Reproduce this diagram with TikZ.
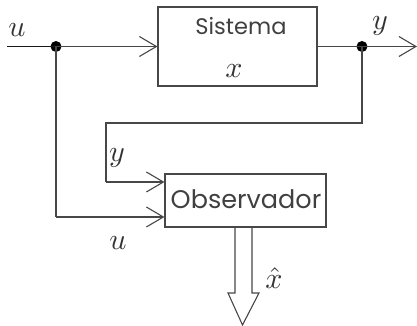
\documentclass[tikz,border=0pt]{standalone}
\usepackage{fontspec}
\usepackage{graphicx}
\newfontfamily\boxfont{Poppins}
\newcommand\mlab[1]{\scalebox{3}{$#1$}}
\usetikzlibrary{arrows.meta}
\tikzset{
  line/.style={draw=black!72, line width=1.1pt},
  blk/.style={draw=black!72, line width=1.1pt, inner sep=0pt, text=black!75},
  barb/.style={-{Straight Barb[length=17pt,width=20pt,line width=1.1pt]}},
  junction/.style={circle, fill=black, inner sep=0pt, minimum size=11pt},
  mlabel/.style={text=black!80, inner sep=0pt}
}
\begin{document}
\begin{tikzpicture}[x=1pt,y=-1pt]
\useasboundingbox (0,0) rectangle (417,326);
\node[blk, minimum width=159pt, minimum height=79pt] (sys) at (237.5,46.5) {};
\node[text=black!75, font=\boxfont\fontsize{22.5}{24}\selectfont, inner sep=0pt] (systxt) at (241,26) {Sistema};
\node[mlabel] (sysx) at (234,71) {\mlab{x}};
\node[blk, minimum width=161pt, minimum height=53pt] (obs) at (245.5,200.5) {};
\node[text=black!75, font=\boxfont\fontsize{25.5}{27}\selectfont, inner sep=0pt] (obstxt) at (246,199) {Observador};

\coordinate (uin) at (7,46.5);
\node[junction] (du) at (56,46.5) {};
\node[junction] (dy) at (362,46.5) {};
\coordinate (yout) at (417,46.5);
\coordinate (fb1) at (362,123);
\coordinate (fb2) at (106,123);
\coordinate (fb3) at (106,182);
\coordinate (ub1) at (56,217);

\draw[line, draw=black!90] (uin) -- (du.center);
\draw[line, barb] (du.center) -- (sys.west);
\draw[line] (sys.east) -- (dy.center);
\draw[line, barb] (dy.center) -- (yout);
\draw[line] (dy.center) -- (fb1) -- (fb2) -- (fb3);
\draw[line, barb] (fb3) -- (fb3 -| obs.west);
\draw[line] (du.center) -- (ub1);
\draw[line, barb] (ub1) -- (ub1 -| obs.west);

\node[mlabel] (lu) at (17,30) {\mlab{u}};
\node[mlabel] (ly) at (380,26) {\mlab{y}};
\node[mlabel] (ly2) at (117,158) {\mlab{y}};
\node[mlabel] (lu2) at (118,243) {\mlab{u}};

\coordinate (a1) at (235,227);
\coordinate (a2) at (252,227);
\draw[line, line join=miter] (a1) -- (235,293) -- (228,293) -- (242.5,325) -- (259,293) -- (252,293) -- (a2);
\node[mlabel] (lxh) at (274,278) {\mlab{\hat{x}}};
\end{tikzpicture}
\end{document}
